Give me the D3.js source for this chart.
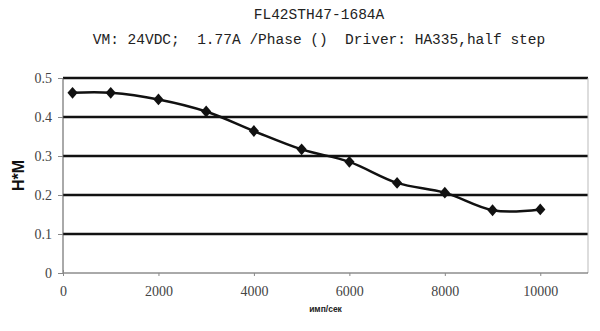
<!DOCTYPE html>
<html>
<head>
<meta charset="utf-8">
<script src="https://cdn.jsdelivr.net/npm/d3@7"></script>
<style>
  body { margin: 0; background: #fff; }
  svg { display: block; }
</style>
</head>
<body>
<div id="chart"></div>
<script>
// Chart data
const titleLines = ['FL42STH47-1684A', 'VM: 24VDC;  1.77A /Phase ()  Driver: HA335,half step'];
const speeds = [200, 1000, 2000, 3000, 4000, 5000, 6000, 7000, 8000, 9000, 10000];
const torque = [0.462, 0.462, 0.445, 0.414, 0.364, 0.317, 0.285, 0.231, 0.206, 0.161, 0.163];
const xTicks = [0, 2000, 4000, 6000, 8000, 10000];
const yTicks = [0, 0.1, 0.2, 0.3, 0.4, 0.5];
const xLabel = 'имп/сек';
const yLabel = 'H*M';

const W = 600, H = 331;
const margin = { top: 78, right: 12, bottom: 58, left: 63 };

const svg = d3.select('#chart').append('svg')
    .attr('width', W)
    .attr('height', H);

// Scales
const x = d3.scaleLinear().domain([0, 11000]).range([margin.left, W - margin.right]);
const y = d3.scaleLinear().domain([0, 0.5]).range([H - margin.bottom, margin.top]);

// Title (two lines, monospace)
svg.selectAll('.title')
    .data(titleLines)
    .enter().append('text')
    .attr('class', 'title')
    .attr('x', 319)
    .attr('y', (d, i) => 19 + i * 25)
    .attr('text-anchor', 'middle')
    .style('font-family', '"Liberation Mono", monospace')
    .style('font-size', '14.5px')
    .style('white-space', 'pre')
    .attr('fill', '#222')
    .text(d => d);

// Horizontal gridlines (thick)
svg.append('g')
    .selectAll('line')
    .data(yTicks.filter(d => d > 0))
    .enter().append('line')
    .attr('x1', x(0))
    .attr('x2', x(11000))
    .attr('y1', d => y(d))
    .attr('y2', d => y(d))
    .attr('stroke', '#111')
    .attr('stroke-width', 2.6);

// Right border of the plot area
svg.append('line')
    .attr('x1', x(11000)).attr('x2', x(11000))
    .attr('y1', y(0.5)).attr('y2', y(0))
    .attr('stroke', '#bbb');

// Y axis
const yAxis = svg.append('g')
    .attr('transform', `translate(${x(0)},0)`)
    .call(d3.axisLeft(y).tickValues(yTicks).tickFormat(d => d === 0 ? '0' : d3.format('.1f')(d)).tickSize(5).tickPadding(6));
// X axis
const xAxis = svg.append('g')
    .attr('transform', `translate(0,${y(0)})`)
    .call(d3.axisBottom(x).tickValues(xTicks).tickFormat(d3.format('d')).tickSize(3).tickPadding(10));

[yAxis, xAxis].forEach(g => {
    g.select('.domain').attr('stroke', '#555');
    g.selectAll('.tick line').attr('stroke', '#888');
    g.selectAll('.tick text')
        .style('font-family', '"Liberation Serif", serif')
        .style('font-size', '14px')
        .attr('fill', '#444');
});
yAxis.select('.domain').attr('d', `M0,${y(0.5)}V${y(0)}`);
xAxis.select('.domain').attr('d', `M${x(0)},0H${x(11000)}`);
// small cross tick at origin
xAxis.selectAll('.tick').filter(d => d === 0).select('line').attr('y1', -3);

// Axis titles
svg.append('text')
    .attr('transform', `translate(24,${(y(0) + y(0.5)) / 2}) rotate(-90)`)
    .attr('text-anchor', 'middle')
    .style('font-family', '"Liberation Sans", Arial, sans-serif')
    .style('font-weight', 'bold')
    .style('font-size', '16px')
    .attr('fill', '#111')
    .text(yLabel);

svg.append('text')
    .attr('x', (x(0) + x(11000)) / 2)
    .attr('y', 312)
    .attr('text-anchor', 'middle')
    .style('font-family', '"Liberation Sans", Arial, sans-serif')
    .style('font-weight', 'bold')
    .style('font-size', '8.5px')
    .attr('fill', '#222')
    .text(xLabel);

// Data line (smoothed like a spreadsheet chart)
const points = speeds.map((s, i) => [s, torque[i]]);
const line = d3.line()
    .x(d => x(d[0]))
    .y(d => y(d[1]))
    .curve(d3.curveCardinal.tension(0));

svg.append('path')
    .datum(points)
    .attr('d', line)
    .attr('fill', 'none')
    .attr('stroke', '#111')
    .attr('stroke-width', 2.5);

// Diamond markers
svg.append('g')
    .selectAll('path')
    .data(points)
    .enter().append('path')
    .attr('d', d3.symbol(d3.symbolSquare, 58))
    .attr('transform', d => `translate(${x(d[0])},${y(d[1])}) scale(0.95,1.1) rotate(45)`)
    .attr('fill', '#111');
</script>
</body>
</html>
